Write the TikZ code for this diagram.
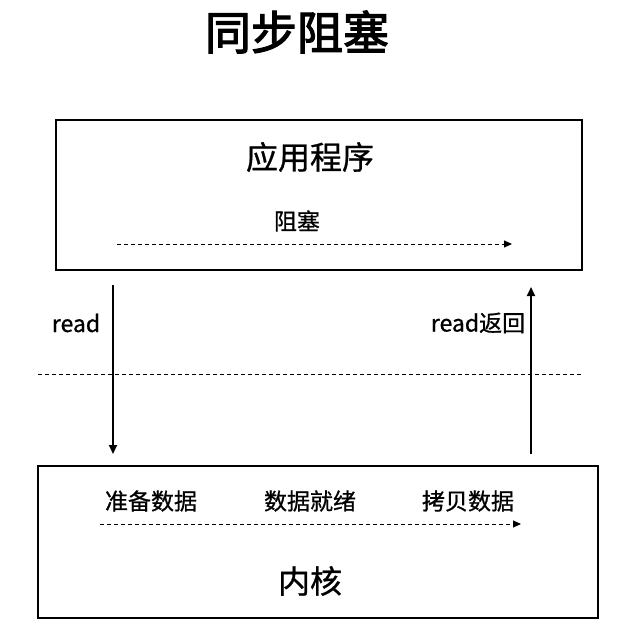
\documentclass[tikz,border=0pt]{standalone}
\usepackage{fontspec}
\setmainfont{Noto Sans CJK SC}[BoldFont={Noto Sans CJK SC},BoldFeatures={FakeBold=2.5}]
\newfontfamily\medf{Noto Sans CJK SC}[FakeBold=0.8]
\usetikzlibrary{arrows.meta}
\tikzset{box/.style={draw,line width=2pt},
 arr/.style={line width=1.8pt,-{Triangle[length=9pt,width=8pt]}},
 darr/.style={line width=1pt,dashed,dash pattern=on 4pt off 3pt,-{Triangle[length=8pt,width=7pt]}},
 lbl/.style={font=\medf\fontsize{23}{26}\selectfont}}
\begin{document}
\begin{tikzpicture}[x=1pt,y=-1pt]
\useasboundingbox (0,0) rectangle (621,632);
\node[font=\fontsize{46}{52}\selectfont\bfseries] (t) at (297,32) {同步阻塞};
\node[box,minimum width=526pt,minimum height=150pt] (app) at (319,195) {};
\node[font=\medf\fontsize{32}{36}\selectfont] (appl) at (310,157) {应用程序};
\node[lbl] (blk) at (297,221) {阻塞};
\coordinate (d1s) at (117,244); \coordinate (d1e) at (512,244);
\draw[darr] (d1s) -- (d1e);
\coordinate (ls) at (113,285); \coordinate (le) at (113,454);
\draw[arr] (ls) -- (le);
\node[lbl] (rd) at (76,323) {read};
\coordinate (rs) at (531,454); \coordinate (re) at (531,287);
\draw[arr] (rs) -- (re);
\node[lbl] (rdr) at (478,323) {read返回};
\coordinate (h1) at (38,374); \coordinate (h2) at (582,374);
\draw[line width=1pt,dash pattern=on 4pt off 3pt] (h1) -- (h2);
\node[box,minimum width=560pt,minimum height=152pt] (ker) at (318,542) {};
\node[lbl] (a1) at (151,501) {准备数据};
\node[lbl] (a2) at (310,501) {数据就绪};
\node[lbl] (a3) at (468,501) {拷贝数据};
\coordinate (d2s) at (100,524); \coordinate (d2e) at (521,524);
\draw[darr] (d2s) -- (d2e);
\node[font=\medf\fontsize{32}{36}\selectfont] (kl) at (310,581) {内核};
\end{tikzpicture}
\end{document}
